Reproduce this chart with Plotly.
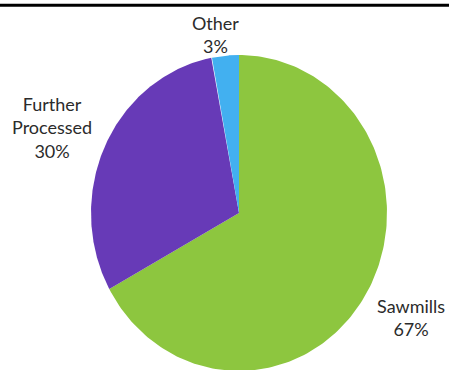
import numpy as np
import plotly.graph_objects as go

categories = ["Sawmills", "Further Processed", "Other"]
values = [67, 30, 3]
colors = ["#8DC63F", "#673AB7", "#42B0F0"]

W, H = 449, 370
cx, cy, rx, ry = 239, 213, 148, 158

fig = go.Figure()
total = sum(values)
start = 0.0
for cat, v, c in zip(categories, values, colors):
    a0 = start / total * 2 * np.pi
    a1 = (start + v) / total * 2 * np.pi
    t = np.linspace(a0, a1, 200)
    xs = np.concatenate([[cx], cx + rx * np.sin(t), [cx]])
    ys = np.concatenate([[cy], cy - ry * np.cos(t), [cy]])
    fig.add_trace(go.Scatter(x=xs, y=ys, fill="toself", fillcolor=c, mode="lines",
                             line=dict(width=0, color=c), name=cat, hoverinfo="name",
                             showlegend=False))
    start += v

label_pos = {"Sawmills": (411, 317), "Further Processed": (52, 127), "Other": (215, 34)}
label_text = {"Sawmills": "Sawmills", "Further Processed": "Further<br>Processed", "Other": "Other"}
for cat, v in zip(categories, values):
    x, y = label_pos[cat]
    fig.add_annotation(x=x, y=y, xref="x", yref="y", showarrow=False,
                       text=f"{label_text[cat]}<br>{round(v / total * 100)}%",
                       font=dict(family="Lato, sans-serif", size=18, color="#2b2b2b"),
                       align="center", xanchor="center", yanchor="middle")

fig.add_shape(type="rect", xref="paper", yref="y", x0=0, x1=1, y0=3.8, y1=6.8,
              fillcolor="black", line=dict(width=0), layer="above")

fig.update_layout(width=W, height=H, margin=dict(l=0, r=0, t=0, b=0),
                  paper_bgcolor="white", plot_bgcolor="white",
                  xaxis=dict(range=[0, W], visible=False, fixedrange=True),
                  yaxis=dict(range=[H, 0], visible=False, fixedrange=True))
fig.write_html("out.html")
